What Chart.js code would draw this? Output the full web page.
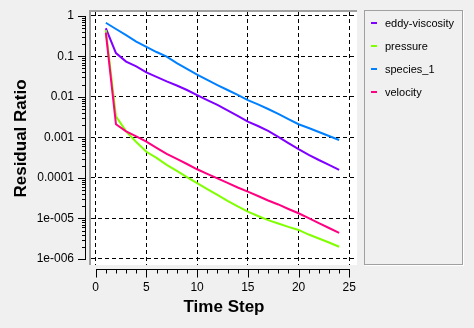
<!DOCTYPE html>
<html>
<head>
<meta charset="utf-8">
<title>Residuals</title>
<script src="https://cdn.jsdelivr.net/npm/chart.js@4.4.0/dist/chart.umd.min.js"></script>
<style>
  html, body { margin: 0; padding: 0; background: #f0f0f0; }
  #wrap { position: relative; width: 474px; height: 328px; }
  #legend {
    position: absolute; left: 364px; top: 10px; width: 97px; height: 253px;
    border: 1px solid #a0a0a0; box-shadow: 1px 1px 0 #fff;
    font: 11px "Liberation Sans", Arial, sans-serif; color: #000;
  }
  #legend .item { position: absolute; left: 0; height: 14px; line-height: 14px; }
  #legend .item i { position: absolute; left: 6px; top: 6px; width: 6px; height: 2px; }
  #legend .item span { position: absolute; left: 20px; white-space: nowrap; }
</style>
</head>
<body>
<div id="wrap">
  <canvas id="residuals" width="474" height="328"></canvas>
  <div id="legend"></div>
</div>
<script>
const steps = [1, 2, 3, 4, 5, 6, 7, 8, 9, 10, 11, 12, 13, 14, 15, 16, 17, 18, 19, 20, 21, 22, 23, 24];

const eddyViscosity = [0.49, 0.12, 0.074, 0.056, 0.04, 0.031, 0.024, 0.019, 0.0147, 0.011, 0.0083, 0.0063,
  0.0046, 0.0034, 0.00245, 0.0019, 0.00144, 0.00102, 0.00072, 0.00051, 0.00037, 0.000276, 0.00021, 0.000157];
const pressure = [0.44, 0.0033, 0.0014, 0.00077, 0.00044, 0.00031, 0.00021, 0.000148, 0.000105, 7.4e-5, 5.3e-5, 3.8e-5,
  2.7e-5, 1.97e-5, 1.47e-5, 1.15e-5, 9.1e-6, 7.5e-6, 6.2e-6, 5.2e-6, 4.0e-6, 3.2e-6, 2.55e-6, 2.0e-6];
const species1 = [0.67, 0.47, 0.33, 0.23, 0.17, 0.127, 0.098, 0.068, 0.049, 0.035, 0.026, 0.0195,
  0.0147, 0.0111, 0.0083, 0.0065, 0.005, 0.0038, 0.0028, 0.0021, 0.0017, 0.00135, 0.00108, 0.00086];
const velocity = [0.38, 0.0021, 0.0014, 0.00105, 0.00078, 0.00055, 0.00039, 0.000293, 0.00022, 0.000163, 0.000125, 9.7e-5,
  7.5e-5, 5.8e-5, 4.57e-5, 3.58e-5, 2.77e-5, 2.21e-5, 1.71e-5, 1.34e-5, 1.02e-5, 7.7e-6, 5.8e-6, 4.4e-6];

const seriesNames = ['eddy-viscosity', 'pressure', 'species_1', 'velocity'];
const seriesColors = ['#8000ff', '#80ff00', '#0080ff', '#ff0080'];

const xTickValues = [0, 5, 10, 15, 20, 25];
const xTickLabels = ['0', '5', '10', '15', '20', '25'];
const yTickValues = [1, 0.1, 0.01, 0.001, 0.0001, 1e-5, 1e-6];
const yTickLabels = ['1', '0.1', '0.01', '0.001', '0.0001', '1e-005', '1e-006'];

const fontFamily = '"Liberation Sans", Arial, sans-serif';

function points(values) {
  return steps.map((s, i) => ({ x: s, y: values[i] }));
}

// white plot box with the sunken grey edge, plus the detached axes with their tick marks
const plotFrame = {
  id: 'plotFrame',
  beforeDraw(chart) {
    const { ctx, chartArea: a } = chart;
    ctx.save();
    ctx.fillStyle = '#fff';
    ctx.fillRect(a.left, a.top, a.right - a.left, a.bottom - a.top);
    ctx.fillStyle = '#a0a0a0';
    ctx.fillRect(a.left - 2, a.top - 2, a.right - a.left + 2, 2);
    ctx.fillRect(a.left - 2, a.top - 2, 2, a.bottom - a.top + 2);
    ctx.restore();
  },
  afterDraw(chart) {
    const { ctx, chartArea: a, scales: { x, y } } = chart;
    ctx.save();
    ctx.strokeStyle = '#000';
    ctx.lineWidth = 1;
    ctx.beginPath();

    // y axis
    const ax = a.left - 5.5;
    const yTop = Math.round(y.getPixelForValue(yTickValues[0]));
    const yBot = Math.round(y.getPixelForValue(yTickValues[yTickValues.length - 1]));
    ctx.moveTo(ax, yTop);
    ctx.lineTo(ax, yBot + 1);
    for (let e = 0; e >= -6; e--) {
      const py = Math.round(y.getPixelForValue(Math.pow(10, e))) + 0.5;
      ctx.moveTo(ax - 7.5, py);
      ctx.lineTo(ax + 0.5, py);
      if (e > -6) {
        for (let m = 2; m <= 9; m++) {
          const my = Math.round(y.getPixelForValue(m * Math.pow(10, e - 1))) + 0.5;
          ctx.moveTo(ax - 3.5, my);
          ctx.lineTo(ax + 0.5, my);
        }
      }
    }

    // x axis
    const ay = a.bottom + 4.5;
    const x0 = Math.round(x.getPixelForValue(xTickValues[0]));
    const x1 = Math.round(x.getPixelForValue(xTickValues[xTickValues.length - 1]));
    ctx.moveTo(x0, ay);
    ctx.lineTo(x1 + 1, ay);
    for (let t = xTickValues[0]; t <= xTickValues[xTickValues.length - 1]; t++) {
      const px = Math.round(x.getPixelForValue(t)) + 0.5;
      ctx.moveTo(px, ay - 0.5);
      ctx.lineTo(px, ay + (t % 5 === 0 ? 8 : 4));
    }
    ctx.stroke();
    ctx.restore();
  }
};

const datasets = [eddyViscosity, pressure, species1, velocity].map((values, i) => ({
  label: seriesNames[i],
  data: points(values),
  borderColor: seriesColors[i],
  backgroundColor: seriesColors[i],
  borderWidth: 2,
  pointRadius: 0,
  tension: 0,
  order: 4 - i
}));

// fixed box sizes so the plot area lands where it should
function fixBox(size) {
  return (scale) => {
    if (scale.isHorizontal()) scale.height = size; else scale.width = size;
    scale.paddingTop = 0;
    scale.paddingBottom = 0;
    scale.paddingLeft = 0;
    scale.paddingRight = 0;
  };
}

const chart = new Chart(document.getElementById('residuals'), {
  type: 'line',
  data: { datasets: datasets },
  options: {
    responsive: false,
    animation: false,
    layout: { padding: { top: 12, right: 117, left: 0, bottom: 0 } },
    plugins: { legend: { display: false }, tooltip: { enabled: false } },
    scales: {
      x: {
        type: 'linear',
        min: -0.46,
        max: 25.76,
        afterBuildTicks: (scale) => { scale.ticks = xTickValues.map(v => ({ value: v })); },
        afterFit: fixBox(63),
        ticks: {
          padding: 15,
          color: '#000',
          maxRotation: 0,
          font: { family: fontFamily, size: 12 },
          callback: (value, index) => xTickLabels[index]
        },
        grid: { color: '#000', lineWidth: 1, drawTicks: false },
        border: { display: false, dash: [4, 3] },
        title: {
          display: true,
          text: 'Time Step',
          color: '#000',
          font: { family: fontFamily, size: 17, weight: 'bold' },
          padding: { top: 0, bottom: 10 }
        }
      },
      y: {
        type: 'logarithmic',
        min: 7.1e-7,
        max: 1.233,
        afterBuildTicks: (scale) => { scale.ticks = yTickValues.map(v => ({ value: v })); },
        afterFit: fixBox(91),
        ticks: {
          padding: 17,
          color: '#000',
          font: { family: fontFamily, size: 12 },
          callback: (value, index) => yTickLabels[index]
        },
        grid: { color: '#000', lineWidth: 1, drawTicks: false },
        border: { display: false, dash: [4, 3] },
        title: {
          display: true,
          text: 'Residual Ratio',
          color: '#000',
          font: { family: fontFamily, size: 17, weight: 'bold' },
          padding: { top: 11, bottom: 0 }
        }
      }
    }
  },
  plugins: [plotFrame]
});

// legend box on the right
const legend = document.getElementById('legend');
chart.data.datasets.forEach((ds, i) => {
  const item = document.createElement('div');
  item.className = 'item';
  item.style.top = (5 + i * 23) + 'px';
  const mark = document.createElement('i');
  mark.style.background = ds.borderColor;
  const text = document.createElement('span');
  text.textContent = ds.label;
  item.appendChild(mark);
  item.appendChild(text);
  legend.appendChild(item);
});
</script>
</body>
</html>
